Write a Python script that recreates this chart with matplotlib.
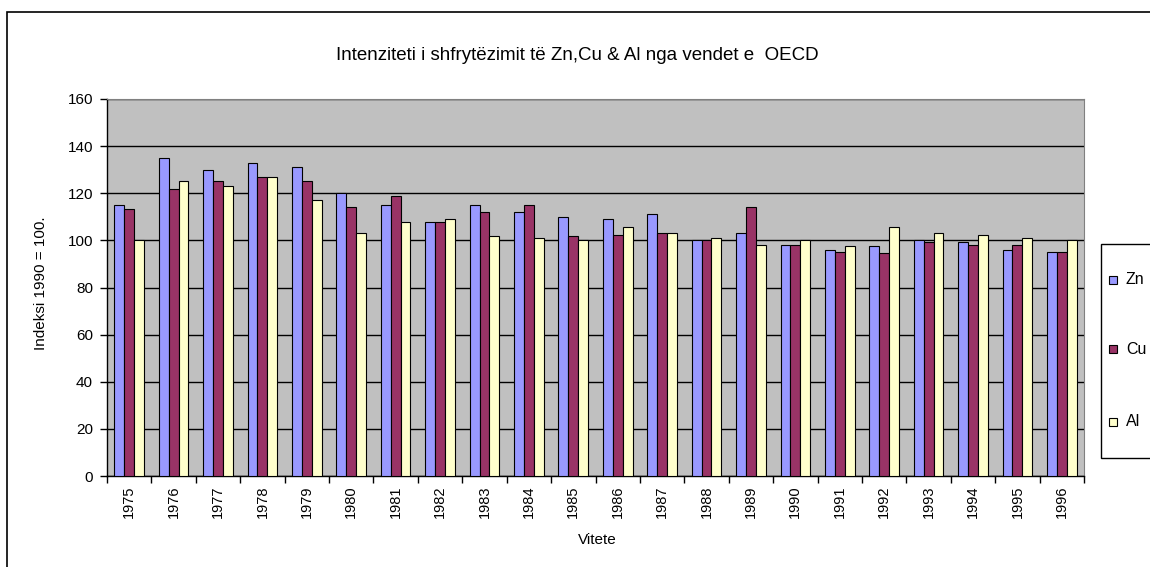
import numpy as np
import matplotlib
matplotlib.use("Agg")
import matplotlib.pyplot as plt
from matplotlib.patches import Rectangle

plt.rcParams["font.family"] = ["Liberation Sans", "DejaVu Sans"]

# --- Të dhënat (indeksi 1990 = 100) ---
vitet = [str(v) for v in range(1975, 1997)]
zn = [115, 135, 130, 133, 131, 120, 115, 108, 115, 112, 110, 109, 111, 100,
      103, 98, 96, 97.5, 100, 99.3, 96, 95]
cu = [113.5, 122, 125, 127, 125, 114, 119, 108, 112, 115, 102, 102.4, 103, 100,
      114, 98, 95, 94.5, 99.3, 98, 98, 95]
al = [100, 125, 123, 127, 117, 103, 108, 109, 102, 101, 100, 105.5, 103, 101,
      98, 100, 97.5, 105.5, 103, 102.4, 101, 100]
seri = ["Zn", "Cu", "Al"]
ngjyrat = ["#9999FF", "#993366", "#FFFFCC"]

W, H = 1150, 567
fig = plt.figure(figsize=(W / 100, H / 100), dpi=100)

# korniza e jashtme e grafikut
fig.patches.append(Rectangle((7 / W, -0.1), 1.2, 1 - 12 / H + 0.1,
                             transform=fig.transFigure, fill=False,
                             edgecolor="black", linewidth=1.2))

ax = fig.add_axes([107 / W, 1 - 476 / H, (1084 - 107) / W, (476 - 99) / H])
ax.set_facecolor("#C0C0C0")

x = np.arange(len(vitet))
bw = 1 / 4.5
for i, (vals, c, lab) in enumerate(zip([zn, cu, al], ngjyrat, seri)):
    ax.bar(x + (i - 1) * bw, vals, width=bw, color=c, edgecolor="black",
           linewidth=0.8, label=lab, zorder=3)

ax.set_xlim(-0.5, len(vitet) - 0.5)
ax.set_ylim(0, 160)
ax.set_yticks(range(0, 161, 20))
ax.yaxis.grid(True, color="black", linewidth=1.0, zorder=1)
ax.set_axisbelow(True)

# vijat e ndarjes në boshtin x midis kategorive
ax.set_xticks(np.arange(-0.5, len(vitet), 1))
ax.set_xticklabels([])
ax.set_xticks(x, minor=True)
ax.set_xticklabels(vitet, minor=True, rotation=90, fontsize=10.5)
ax.tick_params(axis="x", which="minor", length=0, pad=7)
ax.tick_params(axis="x", which="major", length=5, width=1, direction="out")
ax.tick_params(axis="y", length=5, width=1, labelsize=11, pad=5)

for s in ["top", "right"]:
    ax.spines[s].set_color("#808080")
for s in ["left", "bottom"]:
    ax.spines[s].set_linewidth(1.0)

ax.set_ylabel("Indeksi 1990 = 100.", fontsize=11)
ax.yaxis.set_label_coords(48 / W, 0.5, transform=fig.transFigure)
ax.set_xlabel("Vitete", fontsize=11)
ax.xaxis.set_label_coords(597 / W, 1 - 533 / H, transform=fig.transFigure)

fig.text(0.502, 1 - 55 / H, "Intenziteti i shfrytëzimit të Zn,Cu & Al nga vendet e  OECD",
         ha="center", va="center", fontsize=13.5)

# legjenda, e prerë në skajin e djathtë si në origjinal
fig.patches.append(Rectangle((1101 / W, 1 - 458 / H), 0.2, (458 - 244) / H,
                             transform=fig.transFigure, facecolor="white",
                             edgecolor="black", linewidth=1.0))
for lab, c, yy in zip(seri, ngjyrat, [280, 349, 422]):
    fig.patches.append(Rectangle((1109 / W, 1 - (yy + 4) / H), 8 / W, 8 / H,
                                 transform=fig.transFigure, facecolor=c,
                                 edgecolor="black", linewidth=0.8))
    fig.text(1126 / W, 1 - yy / H, lab, ha="left", va="center", fontsize=11.5)

fig.savefig("out.png", dpi=100)
